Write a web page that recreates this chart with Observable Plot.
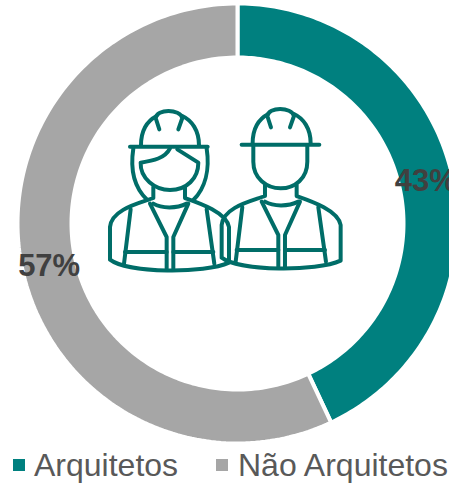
<!DOCTYPE html>
<html><head><meta charset="utf-8">
<script src="https://cdn.jsdelivr.net/npm/d3@7"></script>
<script src="https://cdn.jsdelivr.net/npm/@observablehq/plot@0.6"></script>
<style>
html,body{margin:0;padding:0;background:#fff;width:449px;height:483px;overflow:hidden}
#legend{position:relative;height:36px;font:32px "Liberation Sans",Arial,sans-serif;color:#595959}
#legend span{position:absolute;top:0;line-height:36px;white-space:nowrap}
#legend i{position:absolute;top:12px;width:12px;height:12px}
</style></head><body>
<div id="chart"></div>
<div id="legend"></div>
<script>
const categories = ["Arquitetos", "Não Arquitetos"];
const shares = [43, 57];
const labels = ["43%", "57%"];
const colors = ["#00807f", "#a6a6a6"];

const W = 449, H = 447, cx = 237, cy = 223, R = 220, r = 166;
const arcs = d3.pie().sort(null)(shares);
const polygon = [];
arcs.forEach((a, i) => {
  const n = 160;
  const pts = d3.range(n + 1).map(k => a.startAngle + (a.endAngle - a.startAngle) * k / n);
  for (const t of pts) polygon.push({cat: categories[i], x: R * Math.sin(t), y: -R * Math.cos(t)});
  for (const t of pts.reverse()) polygon.push({cat: categories[i], x: r * Math.sin(t), y: -r * Math.cos(t)});
});
const labelRows = arcs.map((a, i) => {
  const m = (a.startAngle + a.endAngle) / 2, q = (R + r) / 2;
  return {text: labels[i], x: q * Math.sin(m), y: -q * Math.cos(m)};
});

const iconColor = "#006d68";
const helmet = ["M488,160C488,110 510,85 535,72", "M612,72C640,85 662,115 662,160", "M543,112L532,78C535,50 605,50 612,78L600,112", "M455,164L688,164"];
const body = ["M525,285L525,318C490,332 400,350 395,405L395,503C450,545 680,545 752,512L752,405C745,360 660,332 620,318L620,285",
  "M525,335C550,350 595,350 625,335", "M515,335L565,435L565,530", "M630,335L585,435L585,530",
  "M457,352L437,515", "M685,352L708,515", "M440,480L565,480", "M585,480L705,480"];
const manFace = ["M490,165L490,215C490,265 530,295 572,295C615,295 652,265 652,215L652,165"];
const womanFace = ["M240,175C225,205 190,212 152,218C150,265 195,300 240,300C290,300 325,265 325,218L262,178",
  "M130,175C120,240 135,295 172,330", "M350,175C360,240 345,295 310,330"];

function icon() {
  const g = d3.create("svg:g").attr("transform", "translate(90,90) scale(0.3333)")
    .attr("fill", "none").attr("stroke", iconColor).attr("stroke-width", 12)
    .attr("stroke-linecap", "round").attr("stroke-linejoin", "round");
  const add = (paths, t) => {
    const s = g.append("g").attr("transform", t);
    paths.forEach(d => s.append("path").attr("d", d));
  };
  add(body, "translate(-335,6)");
  add(helmet, "translate(-335,6)");
  add(womanFace, "");
  add(body, "");
  add(helmet, "");
  add(manFace, "");
  return g.node();
}

const chart = Plot.plot({
  width: W, height: H, margin: 0,
  x: {domain: [-cx, W - cx], range: [0, W], axis: null},
  y: {domain: [-cy, H - cy], range: [0, H], axis: null},
  color: {domain: categories, range: colors},
  marks: [
    Plot.line(polygon, {x: "x", y: "y", z: "cat", fill: "cat", stroke: "white", strokeWidth: 4, curve: "linear-closed"}),
    icon,
    Plot.text(labelRows, {x: "x", y: "y", text: "text", fontSize: 31, fontWeight: "bold", fill: "#404040", fontFamily: "Liberation Sans"})
  ]
});
chart.style.display = "block";
chart.style.overflow = "hidden";
document.getElementById("chart").append(chart);

const legendPos = [[13, 34], [216, 238]];
const legend = document.getElementById("legend");
categories.forEach((c, i) => {
  const sw = document.createElement("i");
  sw.style.left = legendPos[i][0] + "px"; sw.style.background = colors[i];
  const t = document.createElement("span");
  t.style.left = legendPos[i][1] + "px"; t.textContent = c;
  legend.append(sw, t);
});
</script>
</body></html>
